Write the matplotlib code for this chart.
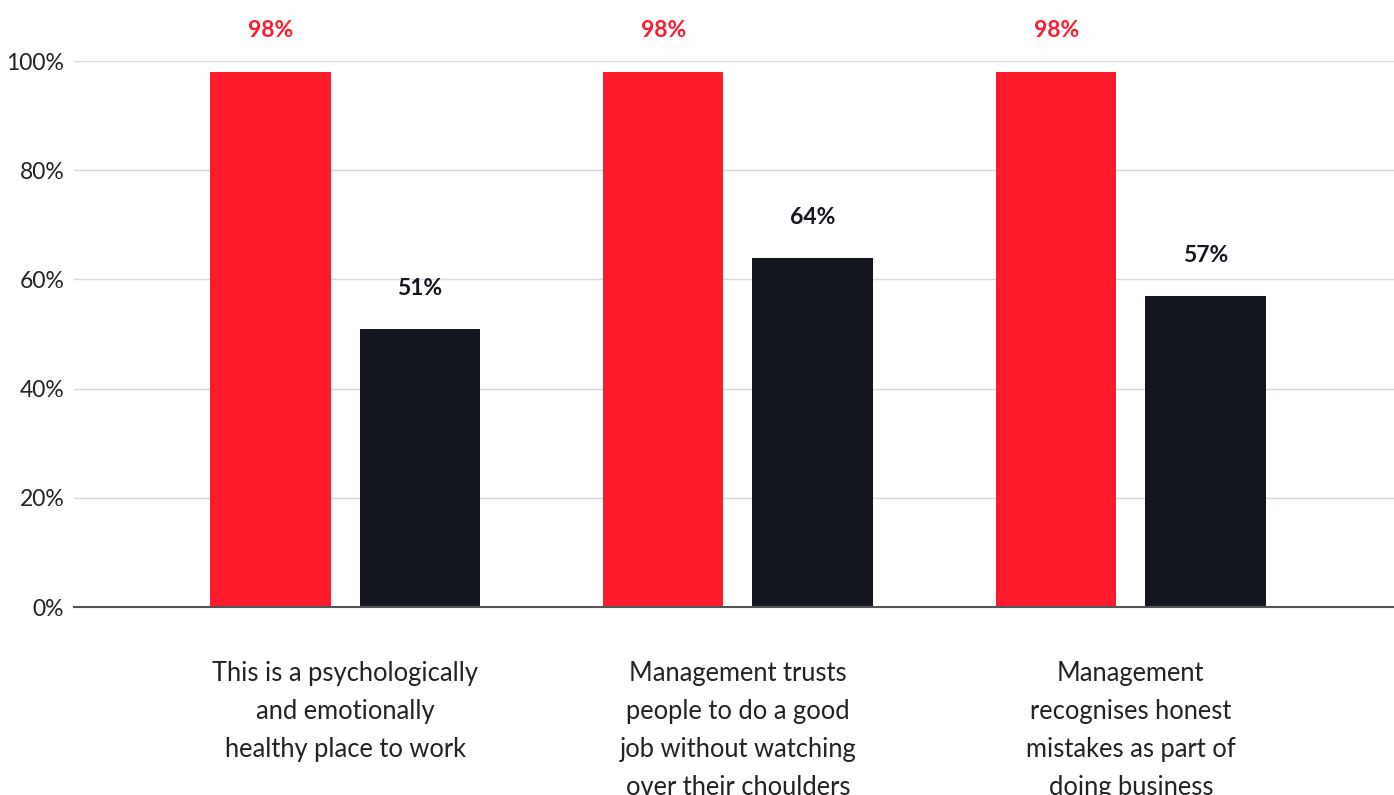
import matplotlib.pyplot as plt
import numpy as np

# survey statements and the two series of answers
categories = [
    "This is a psychologically\nand emotionally\nhealthy place to work",
    "Management trusts\npeople to do a good\njob without watching\nover their choulders",
    "Management\nrecognises honest\nmistakes as part of\ndoing business",
]
red_values = [98, 98, 98]
dark_values = [51, 64, 57]
y_ticks = [0, 20, 40, 60, 80, 100]

RED = "#ff1a2c"
DARK = "#13161f"

plt.rcParams["font.family"] = ["Lato", "DejaVu Sans"]

fig = plt.figure(figsize=(13.94, 7.95), dpi=100)
ax = fig.add_axes([74 / 1394, 1 - 607 / 795, 1 - 74 / 1394, (607 - 61) / 795])

x = np.arange(len(categories))
width = 0.306
offset = 0.19

ax.bar(x - offset, red_values, width, color=RED, zorder=3)
ax.bar(x + offset, dark_values, width, color=DARK, zorder=3)

# value labels above each bar
for xi, v in zip(x, red_values):
    ax.annotate(f"{v}%", (xi - offset, v), xytext=(0, 29.5), textcoords="offset points",
                ha="center", va="center", fontsize=16.5, fontweight="bold", color=RED,
                annotation_clip=False)
for xi, v in zip(x, dark_values):
    ax.annotate(f"{v}%", (xi + offset, v), xytext=(0, 29), textcoords="offset points",
                ha="center", va="center", fontsize=16.5, fontweight="bold", color=DARK,
                annotation_clip=False)

ax.set_xlim(-0.69, 2.67)
ax.set_ylim(0, 100)
ax.set_yticks(y_ticks)
ax.set_yticklabels([f"{t}%" for t in y_ticks], fontsize=16.5, color="#222222")
ax.tick_params(axis="y", length=0, pad=7)
ax.tick_params(axis="x", length=0)
ax.set_xticks([])

ax.grid(axis="y", color="#d5dada", linewidth=1, zorder=0)
for s in ["top", "right", "left"]:
    ax.spines[s].set_visible(False)
ax.spines["bottom"].set_color("#555555")
ax.spines["bottom"].set_linewidth(1.5)
ax.spines["bottom"].set_zorder(4)

# category labels under the axis
for xi, label in zip(x, categories):
    ax.text(xi, -9.9, label, ha="center", va="top", fontsize=18.4, color="#222222",
            linespacing=1.65, transform=ax.transData, clip_on=False)

fig.savefig("out.png", dpi=100)
